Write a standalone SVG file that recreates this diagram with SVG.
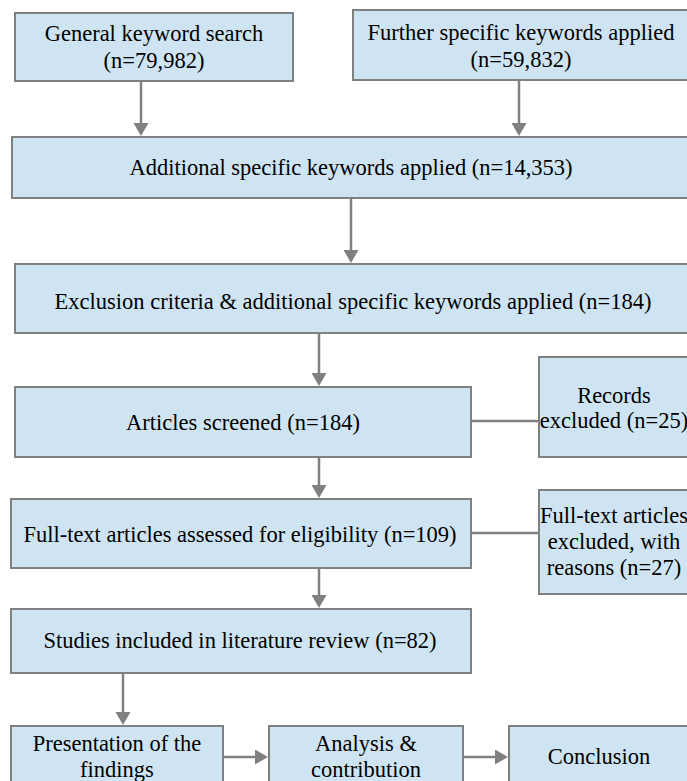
<svg xmlns="http://www.w3.org/2000/svg" width="687" height="781" viewBox="0 0 687 781">
<defs>
<style>
.box{fill:#cfe4f2;stroke:#808080;stroke-width:2}
.t{font-family:"Liberation Serif","Times New Roman",serif;font-size:22.5px;fill:#000;text-anchor:middle}
.c{stroke:#808080;stroke-width:2.5;fill:none}
.a{marker-end:url(#ah)}
</style>
<marker id="ah" markerUnits="userSpaceOnUse" markerWidth="16" markerHeight="16" refX="1" refY="7.5" orient="auto">
<path d="M0,0 L13,7.5 L0,15 z" fill="#808080"/>
</marker>
</defs>
<rect width="687" height="781" fill="#fff"/>
<g id="connectors">
<line class="c a" x1="141" y1="81" x2="141" y2="124"/>
<line class="c a" x1="519" y1="80" x2="519" y2="124"/>
<line class="c a" x1="351" y1="198" x2="351" y2="251"/>
<line class="c a" x1="319" y1="333" x2="319" y2="374"/>
<line class="c" x1="471" y1="421" x2="539" y2="421"/>
<line class="c a" x1="319" y1="457" x2="319" y2="486"/>
<line class="c" x1="471" y1="533" x2="539" y2="533"/>
<line class="c a" x1="319" y1="568" x2="319" y2="596"/>
<line class="c a" x1="123" y1="673" x2="123" y2="713"/>
<line class="c a" x1="223" y1="757" x2="256" y2="757"/>
<line class="c a" x1="463" y1="757" x2="496" y2="757"/>
</g>
<g id="n1"><rect class="box" x="15" y="13" width="278" height="68"/><text class="t" x="154" y="41">General keyword search</text><text class="t" x="154" y="68">(n=79,982)</text></g>
<g id="n2"><rect class="box" x="353" y="10" width="340" height="70"/><text class="t" x="521" y="40">Further specific keywords applied</text><text class="t" x="521" y="67">(n=59,832)</text></g>
<g id="n3"><rect class="box" x="12" y="137" width="680" height="61"/><text class="t" x="351" y="175">Additional specific keywords applied (n=14,353)</text></g>
<g id="n4"><rect class="box" x="15" y="264" width="680" height="69"/><text class="t" x="353" y="309">Exclusion criteria &amp; additional specific keywords applied (n=184)</text></g>
<g id="n5"><rect class="box" x="15" y="387" width="456" height="70"/><text class="t" x="243" y="430">Articles screened (n=184)</text></g>
<g id="n6"><rect class="box" x="539" y="357" width="155" height="100"/><text class="t" x="614" y="403">Records</text><text class="t" x="614" y="428">excluded (n=25)</text></g>
<g id="n7"><rect class="box" x="11" y="499" width="460" height="69"/><text class="t" x="240" y="542">Full-text articles assessed for eligibility (n=109)</text></g>
<g id="n8"><rect class="box" x="539" y="490" width="155" height="104"/><text class="t" x="614" y="523">Full-text articles</text><text class="t" x="614" y="549">excluded, with</text><text class="t" x="614" y="575">reasons (n=27)</text></g>
<g id="n9"><rect class="box" x="11" y="609" width="460" height="64"/><text class="t" x="240" y="648">Studies included in literature review (n=82)</text></g>
<g id="n10"><rect class="box" x="11" y="726" width="212" height="70"/><text class="t" x="117" y="751">Presentation of the</text><text class="t" x="117" y="777">findings</text></g>
<g id="n11"><rect class="box" x="269" y="726" width="194" height="70"/><text class="t" x="366" y="751">Analysis &amp;</text><text class="t" x="366" y="777">contribution</text></g>
<g id="n12"><rect class="box" x="509" y="726" width="190" height="70"/><text class="t" x="599" y="764">Conclusion</text></g>
</svg>
